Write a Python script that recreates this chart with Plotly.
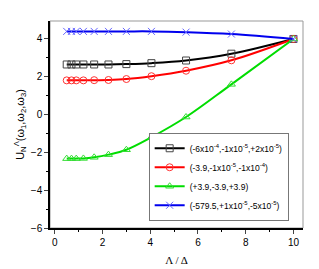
import plotly.graph_objects as go

x_vals = [0.5, 0.7, 0.9, 1.2, 1.65, 2.25, 3.0, 4.05, 5.5, 7.4, 10.0]
black_y = [2.65, 2.65, 2.65, 2.65, 2.65, 2.65, 2.67, 2.72, 2.86, 3.22, 4.0]
red_y = [1.81, 1.81, 1.81, 1.81, 1.82, 1.83, 1.88, 2.03, 2.32, 2.87, 4.0]
green_y = [-2.33, -2.33, -2.33, -2.32, -2.26, -2.12, -1.86, -1.2, -0.13, 1.6, 4.0]
blue_y = [4.4, 4.4, 4.4, 4.4, 4.4, 4.4, 4.4, 4.4, 4.36, 4.26, 4.0]

names = [
    "(-6x10<sup>-4</sup>,-1x10<sup>-5</sup>,+2x10<sup>-5</sup>)",
    "(-3.9,-1x10<sup>-5</sup>,-1x10<sup>-4</sup>)",
    "(+3.9,-3.9,+3.9)",
    "(-579.5,+1x10<sup>-5</sup>,-5x10<sup>-5</sup>)",
]
x_ticks = [0, 2, 4, 6, 8, 10]
y_ticks = [-6, -4, -2, 0, 2, 4]

fig = go.Figure()
styles = [
    (black_y, "black", "square-open", "#444444"),
    (red_y, "#ff0000", "circle-open", "#ff3333"),
    (green_y, "#00dd00", "triangle-up-open", "#33dd33"),
    (blue_y, "#0000ee", "x-thin-open", "#6666ff"),
]
for (ys, col, sym, mcol), nm in zip(styles, names):
    fig.add_trace(go.Scatter(
        x=x_vals, y=ys, name=nm, mode="lines+markers",
        line=dict(color=col, width=2, shape="spline"),
        marker=dict(symbol=sym, size=7, color=mcol, line=dict(width=1, color=mcol)),
    ))

fig.update_layout(
    width=319, height=269,
    margin=dict(l=42, r=24, t=13, b=49),
    plot_bgcolor="white", paper_bgcolor="white",
    font=dict(family="Liberation Sans, Arial", size=10, color="black"),
    legend=dict(x=0.39, y=0.035, xanchor="left", yanchor="bottom",
                bgcolor="white", bordercolor="#777777", borderwidth=1,
                font=dict(size=8.5), tracegroupgap=0, itemwidth=30),
    showlegend=True,
)
fig.update_xaxes(
    range=[-0.2, 10.4], tickvals=x_ticks, ticks="outside", ticklen=4,
    showline=True, linecolor="black", linewidth=1.5, mirror=False,
    showgrid=False, zeroline=False,
    minor=dict(dtick=1, ticks="outside", ticklen=2, tickcolor="black"),
    title=dict(text="Λ / Δ", font=dict(family="Liberation Serif", size=11), standoff=10),
)
fig.update_yaxes(
    range=[-6, 4.95], tickvals=y_ticks, ticks="outside", ticklen=4,
    showline=True, linecolor="black", linewidth=1.5, mirror=False,
    showgrid=False, zeroline=False,
    minor=dict(dtick=1, ticks="outside", ticklen=2, tickcolor="black"),
    title=dict(text="U<sub>N</sub><sup>Λ</sup>(ω<sub>1</sub>,ω<sub>2</sub>,ω<sub>3</sub>)",
               font=dict(size=11), standoff=4),
)
fig.add_shape(type="rect", xref="paper", yref="paper", x0=0, y0=0, x1=1, y1=1,
              line=dict(color="#999999", width=1), layer="below")
fig.write_html("out.html")
